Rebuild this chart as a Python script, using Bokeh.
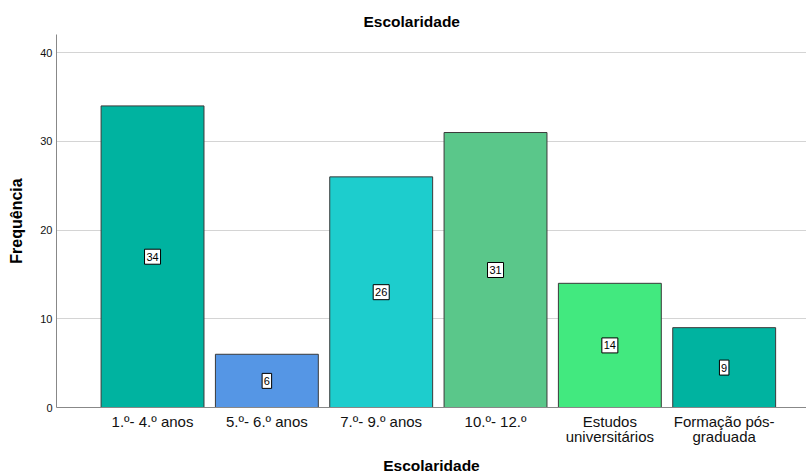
from bokeh.plotting import figure
from bokeh.models import ColumnDataSource, FixedTicker, Range1d
from bokeh.core.properties import value
from bokeh.embed import file_html
from bokeh.resources import INLINE

categories = ["1.º- 4.º anos", "5.º- 6.º anos", "7.º- 9.º anos", "10.º- 12.º",
              "Estudos\nuniversitários", "Formação pós-\ngraduada"]
values = [34, 6, 26, 31, 14, 9]
colors = ["#00b3a0", "#5596e5", "#1dcdcd", "#5ac78a", "#42e97f", "#00b3a0"]
y_ticks = [0, 10, 20, 30, 40]

xs = list(range(len(categories)))
labs = [str(v) for v in values]
src = ColumnDataSource(dict(
    x=xs, top=values, color=colors,
    mid=[v / 2 for v in values],
    lab=labs,
    boxw=[6.5 * len(s) + 3 for s in labs],
))

p = figure(width=806, height=476, output_backend="svg", toolbar_location=None,
           x_range=Range1d(-0.84, 5.72), y_range=Range1d(0, 42.05),
           title="Escolaridade", min_border_left=56, min_border_right=0,
           min_border_top=34, min_border_bottom=69)

p.vbar(x="x", top="top", bottom=0, width=0.9, fill_color="color",
       line_color="#3a3a3a", line_width=1, source=src)

p.rect(x="x", y="mid", width="boxw", height=15, width_units="screen",
       height_units="screen", fill_color="white", line_color="#000000",
       line_width=1, source=src)
p.text(x="x", y="mid", text="lab", source=src, text_align="center",
       text_baseline="middle", text_font=value("Liberation Sans"),
       text_font_size="11px", text_color="#000000")

p.title.align = "left"
p.title.offset = 307
p.title.text_font = "Liberation Sans"
p.title.text_font_size = "15.5px"
p.title.text_font_style = "bold"
p.title.text_color = "#000000"

p.xaxis.ticker = FixedTicker(ticks=xs)
p.xaxis.major_label_overrides = {i: c for i, c in zip(xs, categories)}
p.xaxis.major_label_text_font = "Liberation Sans"
p.xaxis.major_label_text_font_size = "15px"
p.xaxis.major_label_text_line_height = 0.9
p.xaxis.major_label_text_color = "#111111"
p.xaxis.major_tick_line_color = None
p.xaxis.major_tick_out = 0
p.xaxis.major_tick_in = 0
p.xaxis.minor_tick_line_color = None
p.xaxis.axis_line_color = "#888888"
p.xaxis.axis_label = "Escolaridade"
p.xaxis.axis_label_text_font = "Liberation Sans"
p.xaxis.axis_label_text_font_size = "15.5px"
p.xaxis.axis_label_text_font_style = "bold"
p.xaxis.axis_label_text_color = "#000000"
p.xaxis.axis_label_standoff = 9
p.xaxis.major_label_standoff = 5

p.yaxis.ticker = FixedTicker(ticks=y_ticks)
p.yaxis.major_label_text_font = "Liberation Sans"
p.yaxis.major_label_text_font_size = "11px"
p.yaxis.major_label_text_color = "#111111"
p.yaxis.major_tick_line_color = None
p.yaxis.major_tick_out = 0
p.yaxis.major_tick_in = 0
p.yaxis.minor_tick_line_color = None
p.yaxis.axis_line_color = "#888888"
p.yaxis.axis_label = "Frequência"
p.yaxis.axis_label_text_font = "Liberation Sans"
p.yaxis.axis_label_text_font_size = "16px"
p.yaxis.axis_label_text_font_style = "bold"
p.yaxis.axis_label_text_color = "#000000"
p.yaxis.axis_label_standoff = 12
p.yaxis.major_label_standoff = 4

p.xgrid.grid_line_color = None
p.ygrid.grid_line_color = "#d4d4d4"
p.ygrid.grid_line_width = 1
p.outline_line_color = None
p.background_fill_color = "white"
p.border_fill_color = "white"

open("out.html", "w").write(file_html(p, INLINE))
